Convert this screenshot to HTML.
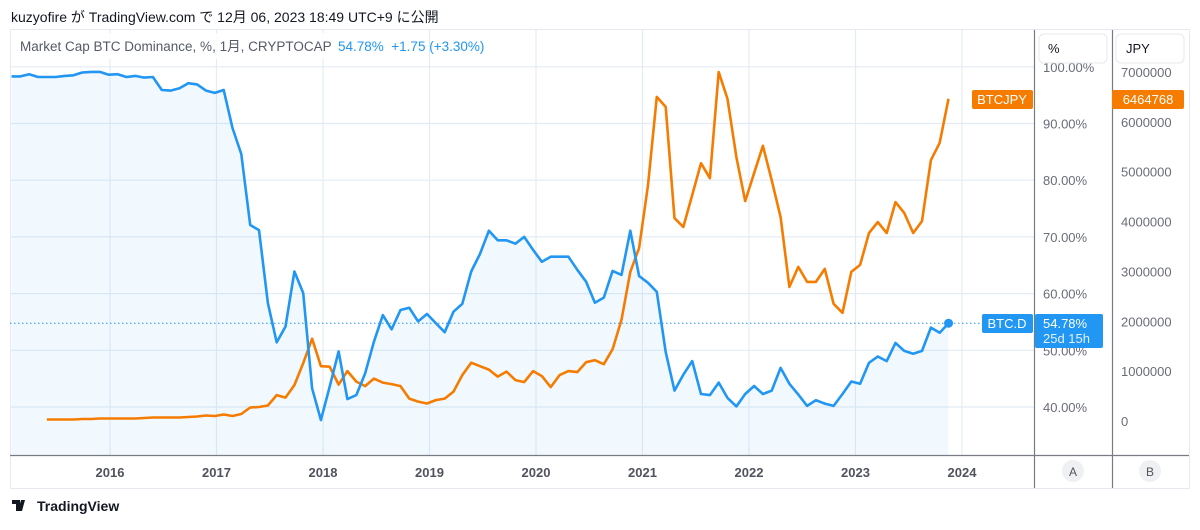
<!DOCTYPE html>
<html><head><meta charset="utf-8">
<style>
body{margin:0;background:#fff;width:1200px;height:525px;overflow:hidden;font-family:"Liberation Sans","Noto Sans CJK JP",sans-serif;}
svg text{font-family:"Liberation Sans","Noto Sans CJK JP",sans-serif;}
</style></head>
<body>
<svg id="chart" width="1200" height="525" viewBox="0 0 1200 525" xmlns="http://www.w3.org/2000/svg">
<text x="11" y="22" font-size="14" fill="#131722">kuzyofire が TradingView.com で 12月 06, 2023 18:49 UTC+9 に公開</text>
<rect x="10.5" y="29.5" width="1179" height="459" fill="none" stroke="#e6eaf0"/>
<g id="grid"></g>
<path id="fill" fill="#2196f3" fill-opacity="0.06"/>
<line id="lastline" x1="10" x2="1034" stroke="#2196f3" stroke-width="1" stroke-dasharray="1.5,2.5"/>
<path id="orange" fill="none" stroke="#f57c00" stroke-width="2.6" stroke-linejoin="round"/>
<path id="blue" fill="none" stroke="#2196f3" stroke-width="2.6" stroke-linejoin="round"/>
<circle id="bluedot" r="4.5" fill="#2196f3"/>
<rect x="12" y="33" width="335" height="26" fill="#fff" fill-opacity="0.85"/>
<text x="20" y="51" font-size="13.5" fill="#555a66">Market Cap BTC Dominance, %, 1月, CRYPTOCAP</text>
<text x="338" y="51" font-size="13.5" fill="#2196f3" xml:space="preserve">54.78%  +1.75 (+3.30%)</text>
<line x1="10" x2="1189" y1="455.5" y2="455.5" stroke="#787b86" stroke-width="1.2"/>
<line x1="1034.5" x2="1034.5" y1="30" y2="488" stroke="#787b86" stroke-width="1.2"/>
<line x1="1112.5" x2="1112.5" y1="30" y2="488" stroke="#787b86" stroke-width="1.2"/>
<g id="xticks"></g>
<g id="pticks"></g>
<g id="jticks"></g>
<rect x="1039" y="34" width="68" height="29" rx="5" fill="#fff" stroke="#e6e8ec"/>
<text x="1048" y="53" font-size="13" fill="#131722">%</text>
<rect x="1116" y="34" width="68" height="29" rx="5" fill="#fff" stroke="#e6e8ec"/>
<text x="1126" y="53" font-size="13" fill="#131722">JPY</text>
<rect x="972" y="90" width="61" height="19" rx="2" fill="#f57c00"/>
<text x="1002" y="104" font-size="13" fill="#fff" text-anchor="middle">BTCJPY</text>
<rect x="1112" y="90" width="72" height="19" rx="2" fill="#f57c00"/>
<text x="1148" y="104" font-size="13" fill="#fff" text-anchor="middle">6464768</text>
<rect x="982" y="314" width="51" height="19" rx="2" fill="#2196f3"/>
<text x="1007" y="328" font-size="13" fill="#fff" text-anchor="middle">BTC.D</text>
<rect x="1035" y="314" width="68" height="34" rx="2" fill="#2196f3"/>
<text x="1043" y="328" font-size="13" fill="#fff">54.78%</text>
<text x="1043" y="343" font-size="13" fill="#e3f0fd">25d 15h</text>
<circle cx="1073" cy="471" r="11" fill="#eef0f3"/>
<text x="1073" y="476" font-size="12" fill="#555" text-anchor="middle">A</text>
<circle cx="1150" cy="471" r="11" fill="#eef0f3"/>
<text x="1150" y="476" font-size="12" fill="#555" text-anchor="middle">B</text>
<g>
<path d="M12 500h8v11h-4v-7h-4z M21 500h4l-3 11h-4z" fill="#131722"/>
<text x="37" y="511" font-size="14" font-weight="bold" fill="#131722">TradingView</text>
</g>
</svg>
<script>
const dominance=[98.3,98.3,98.7,98.2,98.2,98.2,98.4,98.5,99.0,99.1,99.1,98.6,98.7,98.2,98.4,98.1,98.2,95.9,95.8,96.2,97.1,96.9,95.8,95.4,95.9,89.2,84.6,72.1,71.2,58.3,51.4,54.2,63.9,60.1,43.3,37.7,43.6,49.8,41.4,42.1,45.9,51.5,56.2,53.7,57.1,57.5,55.1,56.4,54.8,53.2,56.8,58.2,63.9,67.0,71.1,69.4,69.4,68.8,70.0,67.7,65.6,66.5,66.5,66.5,64.2,62.1,58.4,59.3,64.0,63.3,71.1,63.1,61.9,60.3,49.7,42.9,45.7,48.1,42.3,42.1,44.3,41.6,40.1,42.3,43.7,42.3,42.9,46.9,44.1,42.2,40.2,41.2,40.6,40.2,42.3,44.5,44.1,47.8,48.9,48.1,51.3,49.9,49.4,49.9,54.0,53.1,54.78];
const btcjpy=[null,null,null,null,0.03,0.03,0.03,0.03,0.04,0.04,0.05,0.05,0.05,0.05,0.05,0.06,0.07,0.07,0.07,0.07,0.08,0.09,0.11,0.10,0.13,0.10,0.14,0.27,0.28,0.31,0.52,0.47,0.72,1.16,1.65,1.10,1.09,0.73,1.0,0.79,0.70,0.85,0.77,0.74,0.70,0.45,0.39,0.35,0.42,0.45,0.59,0.92,1.17,1.10,1.03,0.89,0.99,0.82,0.78,1.0,0.90,0.68,0.92,1.0,0.98,1.18,1.22,1.14,1.44,2.03,2.99,3.47,4.73,6.5,6.3,4.07,3.89,4.53,5.17,4.87,7.0,6.46,5.29,4.41,4.97,5.52,4.83,4.09,2.69,3.09,2.79,2.79,3.05,2.35,2.17,2.99,3.13,3.77,3.99,3.77,4.39,4.17,3.77,4.01,5.23,5.58,6.464768];
const years=[2016,2017,2018,2019,2020,2021,2022,2023,2024];
const pctTicks=[40,50,60,70,80,90,100];
const jpyTicks=[0,1,2,3,4,5,6,7];
const NS="http://www.w3.org/2000/svg";
function xOfYear(t){return 110+(t-2016)*106.5;}
function xOfIndex(i){return 11.5+i*8.84;}
function yPct(v){return 407-(v-40)*5.67;}
function yJpy(m){return 421-m*49.86;}
function mk(tag,attrs,parent){const e=document.createElementNS(NS,tag);for(const k in attrs)e.setAttribute(k,attrs[k]);parent.appendChild(e);return e;}
const grid=document.getElementById('grid');
pctTicks.forEach(v=>{const l=mk('line',{x1:10,x2:1034,y1:yPct(v),y2:yPct(v),stroke:'#e3ecf5','stroke-width':1.2},grid);

});
years.forEach(y=>{const l=mk('line',{x1:xOfYear(y),x2:xOfYear(y),y1:30,y2:455,stroke:'#e3ecf5','stroke-width':1.2},grid);

});
const xt=document.getElementById('xticks');
years.forEach(y=>{const t=mk('text',{x:xOfYear(y),y:477,'font-size':13,'font-weight':'bold',fill:'#50535e','text-anchor':'middle'},xt);t.textContent=y;

});
const pt=document.getElementById('pticks');
pctTicks.forEach(v=>{const t=mk('text',{x:1043,y:yPct(v)+5,'font-size':13,fill:'#6a6d78'},pt);t.textContent=v.toFixed(2)+'%';

});
const jt=document.getElementById('jticks');
jpyTicks.forEach(v=>{const t=mk('text',{x:1121,y:yJpy(v)+5,'font-size':13,fill:'#6a6d78'},jt);t.textContent=String(v*1000000);

});
let d='';dominance.forEach((v,i)=>{d+=(i?'L':'M')+xOfIndex(i).toFixed(1)+' '+yPct(v).toFixed(1);});
document.getElementById('blue').setAttribute('d',d);
const last=dominance.length-1;
document.getElementById('fill').setAttribute('d',d+'L'+xOfIndex(last).toFixed(1)+' 455L'+xOfIndex(0).toFixed(1)+' 455Z');
const ly=yPct(dominance[last]);
const ll=document.getElementById('lastline');ll.setAttribute('y1',ly);ll.setAttribute('y2',ly);
const dot=document.getElementById('bluedot');dot.setAttribute('cx',xOfIndex(last));dot.setAttribute('cy',ly);
let o='',started=false;btcjpy.forEach((v,i)=>{if(v===null)return;o+=(started?'L':'M')+xOfIndex(i).toFixed(1)+' '+yJpy(v).toFixed(1);started=true;});
document.getElementById('orange').setAttribute('d',o);
</script>
</body></html>
